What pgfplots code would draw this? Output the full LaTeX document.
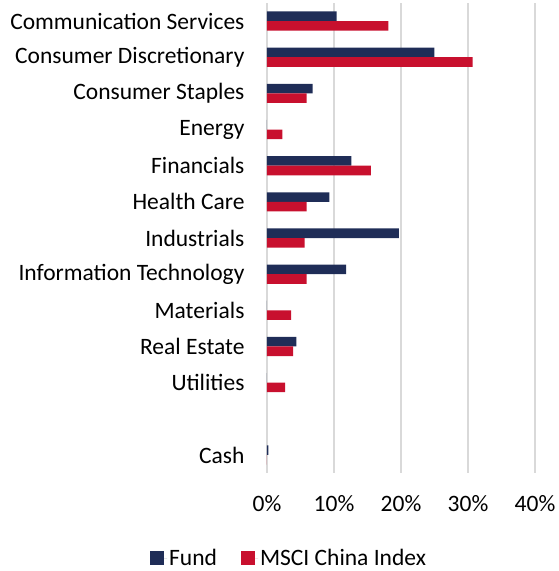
\documentclass[border=0pt]{standalone}
\usepackage{pgfplots}
\pgfplotsset{compat=1.18}
\usepackage{fontspec}
\setmainfont{Carlito}
\definecolor{fund}{HTML}{1F2D57}
\definecolor{msci}{HTML}{C8102E}
\definecolor{gridc}{HTML}{D9D9D9}
\begin{document}
\begin{tikzpicture}
\useasboundingbox (-267pt,-98pt) rectangle (291pt,473pt);
\begin{axis}[
  at={(0,0)}, anchor=south west,
  scale only axis,
  width=268pt, height=470pt,
  xbar,
  bar width=9.6pt,
  y dir=reverse,
  xmin=0, xmax=40,
  ymin=-0.5, ymax=12.5,
  axis line style={draw=none},
  xmajorgrids,
  grid style={gridc, line width=1.5pt},
  xtick={0,10,20,30,40},
  xticklabel={\pgfmathprintnumber{\tick}\%},
  ytick={0,1,2,3,4,5,6,7,8,9,10,12},
  yticklabels={Communication Services,Consumer Discretionary,Consumer Staples,Energy,Financials,Health Care,Industrials,Information Technology,Materials,Real Estate,Utilities,Cash},
  major tick length=0pt,
  /pgf/number format/assume math mode=true,
  tick label style={font=\fontsize{23.5}{28}\selectfont, text=black},
  xticklabel style={yshift=-19pt},
  yticklabel style={xshift=-19pt, anchor=east},
  legend style={at={(-0.4366,-0.181)}, anchor=west, draw=none, inner sep=0pt, legend columns=2,
    font=\fontsize{23.5}{28}\selectfont, /tikz/every even column/.append style={column sep=22pt}},
  legend image code/.code={\fill[#1] (0pt,-7pt) rectangle (14pt,7pt); \path (0pt,0pt) -- (17pt,0pt);},
  clip=false,
]
\addplot[fill=fund, draw=none, bar shift=4.8pt] coordinates {
 (10.4,0) (25.0,1) (6.8,2) (0,3) (12.6,4) (9.3,5) (19.7,6) (11.8,7) (0,8) (4.4,9) (0,10) (0.2,12)};
\addlegendentry{Fund}
\addplot[fill=msci, draw=none, bar shift=-4.8pt] coordinates {
 (18.1,0) (30.7,1) (5.9,2) (2.3,3) (15.5,4) (5.9,5) (5.6,6) (5.9,7) (3.6,8) (3.9,9) (2.7,10) (0,12)};
\addlegendentry{MSCI China Index}
\end{axis}
\end{tikzpicture}
\end{document}
